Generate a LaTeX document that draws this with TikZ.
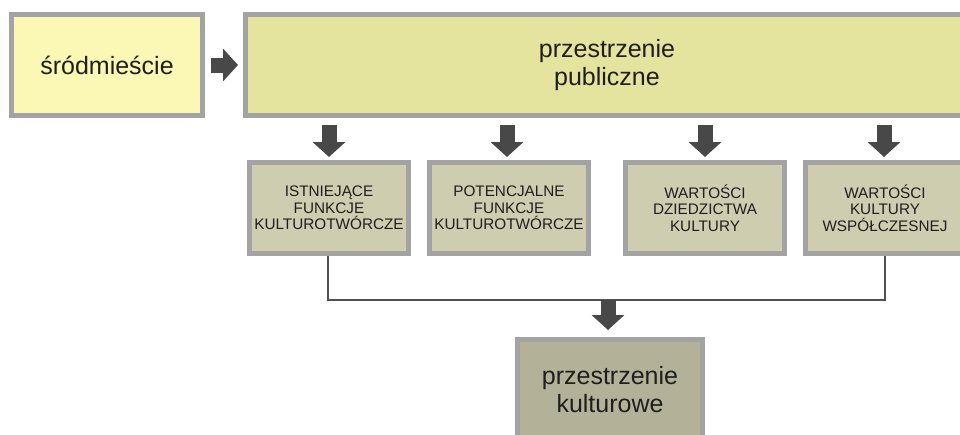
\documentclass[tikz,border=0pt]{standalone}
\usepackage{fontspec}
\setmainfont{Liberation Sans}
\usetikzlibrary{arrows.meta}
\definecolor{bordergray}{HTML}{A3A3A3}
\definecolor{fillA}{HTML}{FAF8B4}
\definecolor{fillB}{HTML}{E5E49E}
\definecolor{fillC}{HTML}{CFCDB0}
\definecolor{fillD}{HTML}{B3B299}
\definecolor{arrowgray}{HTML}{484848}
\definecolor{linegray}{HTML}{505050}
\definecolor{txt}{HTML}{1E1E1E}
\tikzset{
  box/.style={draw=bordergray, line width=5pt, inner sep=0pt, text=txt, align=center},
  bigtext/.style={font=\fontsize{25}{28}\selectfont},
  smalltext/.style={font=\fontsize{15.3}{16.5}\selectfont},
  blockarrow/.style={draw=arrowgray, line width=15pt, -{Triangle[width=32pt,length=15pt]}},
  conn/.style={draw=linegray, line width=2.2pt}
}
\begin{document}
\begin{tikzpicture}[x=1pt,y=-1pt]
\useasboundingbox (0,0) rectangle (960,434);
\begin{scope}
\clip (0,0) rectangle (960,434);
\node[box, fill=fillA, bigtext, minimum width=191pt, minimum height=101pt] (A) at (107,65) {śródmieście};
\node[box, fill=fillB, bigtext, minimum width=723pt, minimum height=101pt] (B) at (607,65) {przestrzenie\\publiczne};
\node[box, fill=fillC, smalltext, minimum width=159pt, minimum height=91pt] (C1) at (329,208) {ISTNIEJĄCE\\FUNKCJE\\KULTUROTWÓRCZE};
\node[box, fill=fillC, smalltext, minimum width=159pt, minimum height=91pt] (C2) at (509,208) {POTENCJALNE\\FUNKCJE\\KULTUROTWÓRCZE};
\node[box, fill=fillC, smalltext, minimum width=159pt, minimum height=91pt] (C3) at (705,208) {WARTOŚCI\\DZIEDZICTWA\\KULTURY};
\node[box, fill=fillC, smalltext, minimum width=159pt, minimum height=91pt] (C4) at (885,208) {WARTOŚCI\\KULTURY\\WSPÓŁCZESNEJ};
\node[box, fill=fillD, bigtext, minimum width=185pt, minimum height=101pt] (D) at (610,390) {przestrzenie\\kulturowe};
\coordinate (m) at (610,300);
\draw[blockarrow, shorten <=6pt, shorten >=5pt] (A.east) -- (A.east -| B.west);
\draw[blockarrow, shorten <=7pt, shorten >=3pt] (C1.north |- B.south) -- (C1.north);
\draw[blockarrow, shorten <=7pt, shorten >=3pt] ([xshift=-2pt]C2.north |- B.south) -- ([xshift=-2pt]C2.north);
\draw[blockarrow, shorten <=7pt, shorten >=3pt] (C3.north |- B.south) -- (C3.north);
\draw[blockarrow, shorten <=7pt, shorten >=3pt] ([xshift=-1pt]C4.north |- B.south) -- ([xshift=-1pt]C4.north);
\draw[conn] ([xshift=-1pt]C1.south) |- (m) -| (C4.south);
\draw[blockarrow, shorten >=7pt] ([xshift=-2pt]m) -- ([xshift=-2pt]D.north);
\end{scope}
\end{tikzpicture}
\end{document}
